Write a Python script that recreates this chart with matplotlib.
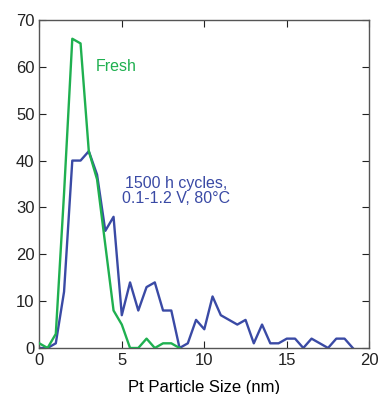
import matplotlib
matplotlib.use("Agg")
import matplotlib.pyplot as plt
import numpy as np

plt.rcParams["font.family"] = ["Liberation Sans", "DejaVu Sans"]

# Particle size bins (nm), 0.5 nm steps
fresh_size = np.arange(0, 8.51, 0.5)
fresh_count = [1, 0, 3, 33, 66, 65, 42, 36, 22, 8, 5, 0, 0, 2, 0, 1, 1, 0]

cycled_size = np.arange(0, 19.01, 0.5)
cycled_count = [0, 0, 1, 12, 40, 40, 42, 37, 25, 28, 7, 14, 8, 13, 14, 8, 8, 0,
                1, 6, 4, 11, 7, 6, 5, 6, 1, 5, 1, 1, 2, 2, 0, 2, 1, 0, 2, 2, 0]

GREEN = "#1fb050"
BLUE = "#3a4aa5"

fig = plt.figure(figsize=(3.78, 3.94), dpi=100)
ax = fig.add_axes([39.3 / 378, 1 - 348 / 394, 330 / 378, 328 / 394])

ax.plot(fresh_size, fresh_count, color=GREEN, lw=1.7, zorder=3)
ax.plot(cycled_size, cycled_count, color=BLUE, lw=1.7, zorder=2)

ax.set_xlim(0, 20)
ax.set_ylim(0, 70)
ax.set_xticks([0, 5, 10, 15, 20])
ax.set_yticks(range(0, 71, 10))
ax.tick_params(direction="in", top=True, right=True, length=5, width=0.8,
               labelsize=12, colors="#222222")
for s in ax.spines.values():
    s.set_color("#555555")
    s.set_linewidth(1.0)

ax.set_xlabel("Pt Particle Size (nm)", fontsize=12, labelpad=9)

ax.text(3.45, 60, "Fresh", color=GREEN, fontsize=11.5, va="center")
ax.text(8.3, 33.4, "1500 h cycles,\n0.1-1.2 V, 80°C", color=BLUE, fontsize=11.5,
        ha="center", va="center", linespacing=1.0)

fig.savefig("out.png", dpi=100)
